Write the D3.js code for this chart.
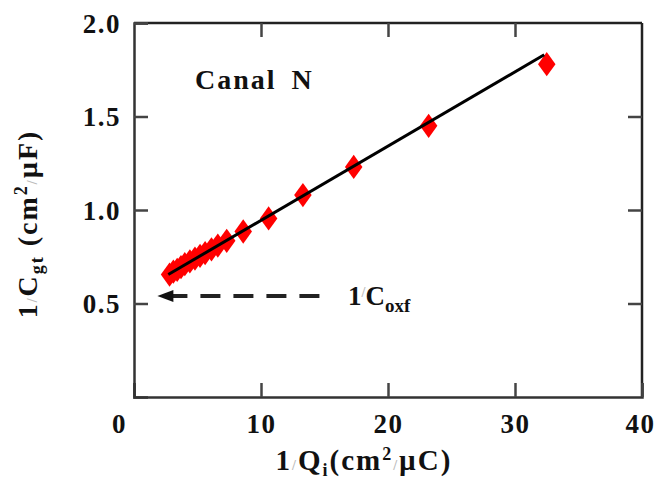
<!DOCTYPE html>
<html><head><meta charset="utf-8">
<script src="https://cdn.jsdelivr.net/npm/d3@7"></script>
<style>body{margin:0;background:#fff}text{font-family:"Liberation Serif","Times New Roman",serif;font-weight:bold}</style>
</head><body><svg id="c" width="654" height="484"></svg>
<script>
// data
const invQ = [2.8, 3.1, 3.4, 3.7, 4.0, 4.4, 4.8, 5.2, 5.6, 6.1, 6.6, 7.3, 8.6, 10.6, 13.3, 17.3, 23.2, 32.5];
const invC = [0.655, 0.67, 0.68, 0.695, 0.71, 0.725, 0.74, 0.755, 0.77, 0.79, 0.81, 0.835, 0.885, 0.955, 1.08, 1.23, 1.45, 1.78];
const fitX = [2.7, 32.3];
const fitY = [0.655, 1.83];
const arrowX = [14.6, 2.0];
const arrowY = [0.54, 0.54];
const xTicks = [0, 10, 20, 30, 40];
const yTicks = [0.5, 1.0, 1.5, 2.0];

const svg = d3.select("#c");
const L = 134, R = 642, T = 23, B = 397;
const x = d3.scaleLinear().domain([0, 40]).range([L, R]);
const y = d3.scaleLinear().domain([0, 2]).range([B, T]);

// frame
svg.append("line").attr("x1", L).attr("x2", R).attr("y1", T).attr("y2", T).attr("stroke", "#222").attr("stroke-width", 2.5);
svg.append("line").attr("x1", R).attr("x2", R).attr("y1", T).attr("y2", B).attr("stroke", "#222").attr("stroke-width", 2.5);

// axes
const ax = svg.append("g").attr("transform", `translate(0,${B})`)
  .call(d3.axisBottom(x).tickValues(xTicks).tickSize(-14).tickPadding(17).tickFormat(d3.format("d")));
const ay = svg.append("g").attr("transform", `translate(${L},0)`)
  .call(d3.axisLeft(y).tickValues(yTicks).tickSize(-14).tickPadding(13).tickFormat(d3.format(".1f")));
svg.append("g").attr("transform", `translate(0,${T})`)
  .call(d3.axisTop(x).tickValues(xTicks.slice(1, 4)).tickSize(-14).tickFormat(""))
  .select(".domain").remove();
svg.append("g").attr("transform", `translate(${R},0)`)
  .call(d3.axisRight(y).tickValues(yTicks.slice(0, 3)).tickSize(-14).tickFormat(""))
  .select(".domain").remove();
[ax, ay].forEach(g => g.select(".domain").attr("stroke", "#333").attr("stroke-width", 2.5));
svg.selectAll(".tick line").attr("stroke", "#444").attr("stroke-width", 2.5);
svg.selectAll(".tick text").attr("font-size", 27).attr("font-family", "Liberation Serif").attr("font-weight", "bold")
  .attr("fill", "#111").attr("letter-spacing", 1.5);
ax.selectAll(".tick text").filter(d => d === 0).attr("dx", -15);
ax.selectAll(".tick text").filter(d => d === 40).attr("dx", -2);
ay.selectAll(".tick text").attr("dy", "0.34em");

// points
const diamond = d3.symbol().type(d3.symbolDiamond).size(170);
svg.append("g").selectAll("path").data(invQ).join("path")
  .attr("d", diamond)
  .attr("transform", (d, i) => `translate(${x(d)},${y(invC[i])}) scale(1.25,1)`)
  .attr("fill", "#ff0000");

// fit line
const line = d3.line().x(d => x(d[0])).y(d => y(d[1]));
svg.append("path").datum(d3.zip(fitX, fitY)).attr("d", line)
  .attr("fill", "none").attr("stroke", "#000").attr("stroke-width", 3);

// dashed arrow
svg.append("path").datum(d3.zip(arrowX, arrowY)).attr("d", line)
  .attr("stroke", "#222").attr("stroke-width", 4).attr("stroke-dasharray", "20,13");
const tipX = x(arrowX[1]), tipY = y(arrowY[1]);
svg.append("path").attr("d", `M${tipX - 2},${tipY} L${tipX + 14},${tipY - 6} L${tipX + 14},${tipY + 6} Z`).attr("fill", "#111");

// labels
svg.append("text").attr("x", 195).attr("y", 89).attr("font-size", 28).attr("letter-spacing", 2).attr("word-spacing", 6).attr("fill", "#111").text("Canal N");
const lc = svg.append("text").attr("x", 348).attr("y", 305).attr("font-size", 27).attr("fill", "#111");
lc.append("tspan").text("1");
lc.append("tspan").attr("fill", "#bbb").attr("font-size", 14).attr("dy", -8).text("/");
lc.append("tspan").attr("dy", 8).text("C");
lc.append("tspan").attr("font-size", 19).attr("dy", 7).text("oxf");

const xt = svg.append("text").attr("x", 364).attr("y", 470).attr("text-anchor", "middle").attr("font-size", 29).attr("letter-spacing", 2).attr("fill", "#111");
xt.append("tspan").text("1");
xt.append("tspan").attr("fill", "#bbb").attr("font-size", 14).text("/");
xt.append("tspan").text("Q");
xt.append("tspan").attr("font-size", 18).attr("dy", 6).text("i");
xt.append("tspan").attr("dy", -6).text("(cm");
xt.append("tspan").attr("font-size", 18).attr("dy", -10).text("2");
xt.append("tspan").attr("dy", 10).attr("fill", "#bbb").attr("font-size", 14).text("/");
xt.append("tspan").text("µC)");

const yt = svg.append("text").attr("transform", "translate(37,224) rotate(-90)").attr("text-anchor", "middle").attr("font-size", 28).attr("letter-spacing", 2).attr("fill", "#111");
yt.append("tspan").text("1");
yt.append("tspan").attr("fill", "#bbb").attr("font-size", 14).text("/");
yt.append("tspan").text("C");
yt.append("tspan").attr("font-size", 18).attr("dy", 6).text("gt");
yt.append("tspan").attr("dy", -6).text(" (cm");
yt.append("tspan").attr("font-size", 18).attr("dy", -10).text("2");
yt.append("tspan").attr("dy", 10).attr("fill", "#bbb").attr("font-size", 14).text("/");
yt.append("tspan").text("µF)");
</script></body></html>
